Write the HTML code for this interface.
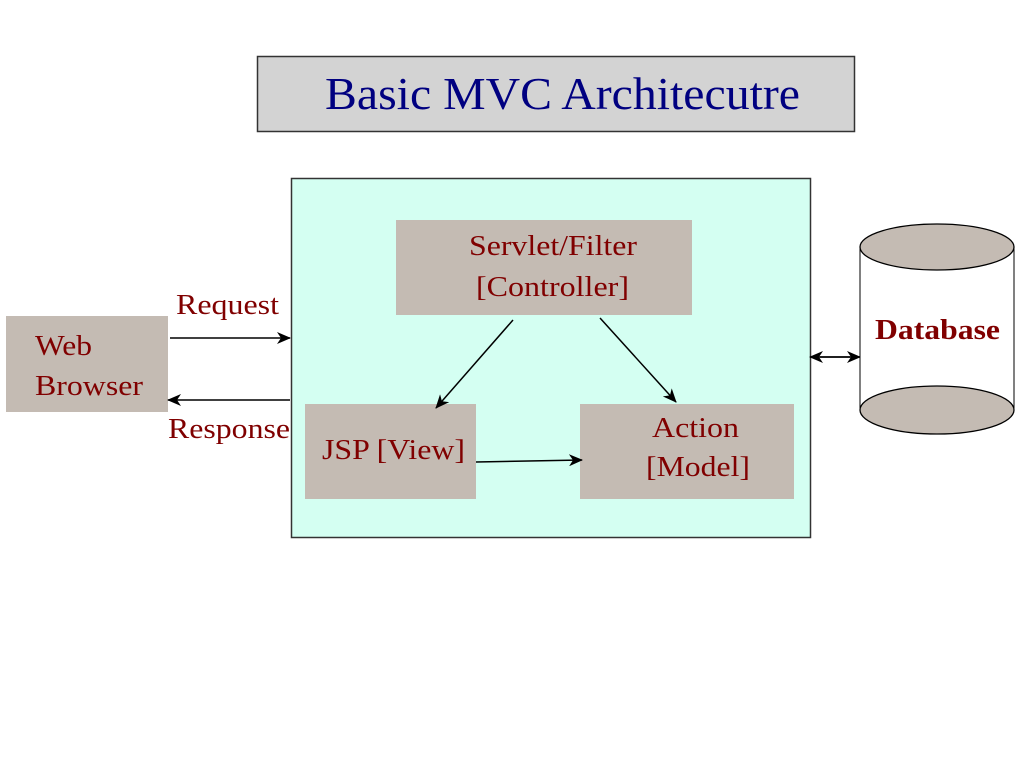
<!DOCTYPE html>
<html><head><meta charset="utf-8"><style>body{margin:0;background:#fff}svg{display:block}</style></head><body>
<svg width="1024" height="768" xmlns="http://www.w3.org/2000/svg" font-family="Liberation Serif, serif">
<defs>
<marker id="a" markerWidth="14" markerHeight="12" refX="13" refY="6" orient="auto" markerUnits="userSpaceOnUse"><path d="M0,0 L14,6 L0,12 L4,6 Z" fill="#000"/></marker>
</defs>
<rect width="1024" height="768" fill="#fff"/>
<rect x="257.5" y="56.5" width="597" height="75" fill="#d3d3d3" stroke="#333" stroke-width="1.5"/>
<text x="325" y="109" font-size="46" fill="#000080" textLength="475" lengthAdjust="spacingAndGlyphs">Basic MVC Architecutre</text>
<rect x="291.5" y="178.5" width="519" height="359" fill="#d4fff2" stroke="#333" stroke-width="1.5"/>
<rect x="396" y="220" width="296" height="95" fill="#c4bbb3"/>
<text x="469" y="255" font-size="28" fill="#800000" textLength="168" lengthAdjust="spacingAndGlyphs">Servlet/Filter</text>
<text x="476" y="296" font-size="28" fill="#800000" textLength="153" lengthAdjust="spacingAndGlyphs">[Controller]</text>
<rect x="305" y="404" width="171" height="95" fill="#c4bbb3"/>
<text x="322" y="459" font-size="28" fill="#800000" textLength="143" lengthAdjust="spacingAndGlyphs">JSP [View]</text>
<rect x="580" y="404" width="214" height="95" fill="#c4bbb3"/>
<text x="652" y="437" font-size="28" fill="#800000" textLength="87" lengthAdjust="spacingAndGlyphs">Action</text>
<text x="646" y="476" font-size="28" fill="#800000" textLength="104" lengthAdjust="spacingAndGlyphs">[Model]</text>
<rect x="6" y="316" width="162" height="96" fill="#c4bbb3"/>
<text x="35" y="355" font-size="28" fill="#800000" textLength="57" lengthAdjust="spacingAndGlyphs">Web</text>
<text x="35" y="395" font-size="28" fill="#800000" textLength="108" lengthAdjust="spacingAndGlyphs">Browser</text>
<text x="176" y="314" font-size="28" fill="#800000" textLength="103" lengthAdjust="spacingAndGlyphs">Request</text>
<text x="168" y="438" font-size="28" fill="#800000" textLength="122" lengthAdjust="spacingAndGlyphs">Response</text>
<line x1="170" y1="338" x2="290" y2="338" stroke="#000" stroke-width="1.5" marker-end="url(#a)"/>
<line x1="290" y1="400" x2="168" y2="400" stroke="#000" stroke-width="1.5" marker-end="url(#a)"/>
<line x1="513" y1="320" x2="436" y2="408" stroke="#000" stroke-width="1.5" marker-end="url(#a)"/>
<line x1="600" y1="318" x2="676" y2="402" stroke="#000" stroke-width="1.5" marker-end="url(#a)"/>
<line x1="476" y1="462" x2="582" y2="460" stroke="#000" stroke-width="1.5" marker-end="url(#a)"/>
<line x1="820" y1="357" x2="860" y2="357" stroke="#000" stroke-width="1.5" marker-end="url(#a)"/>
<line x1="850" y1="357" x2="810" y2="357" stroke="#000" stroke-width="1.5" marker-end="url(#a)"/>
<rect x="860" y="247" width="154" height="163" fill="#fff"/>
<line x1="860" y1="247" x2="860" y2="410" stroke="#000"/>
<line x1="1014" y1="247" x2="1014" y2="410" stroke="#000"/>
<ellipse cx="937" cy="410" rx="77" ry="24" fill="#c4bbb3" stroke="#000" stroke-width="1.3"/>
<ellipse cx="937" cy="247" rx="77" ry="23" fill="#c4bbb3" stroke="#000" stroke-width="1.3"/>
<text x="875" y="339" font-size="28" font-weight="bold" fill="#800000" textLength="125" lengthAdjust="spacingAndGlyphs">Database</text>
</svg>
</body></html>
